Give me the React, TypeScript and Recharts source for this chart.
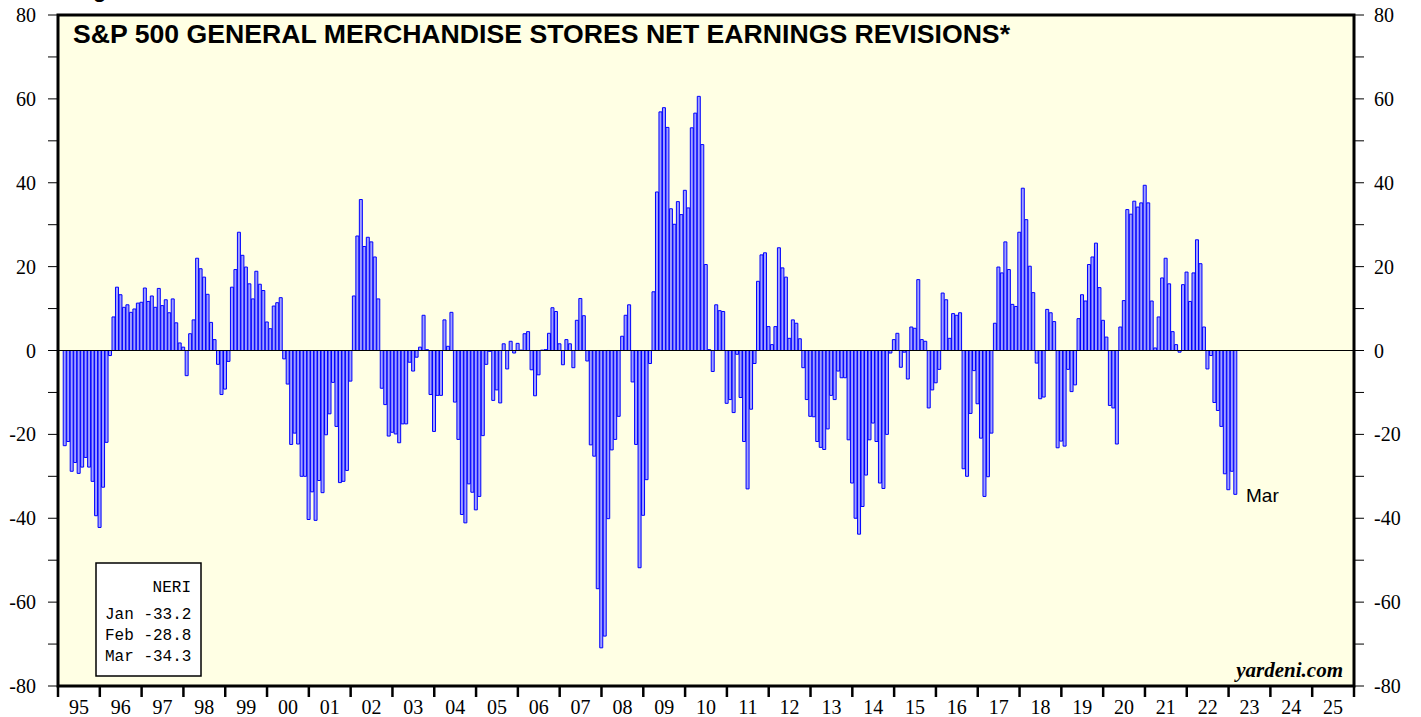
import { BarChart, Bar, XAxis, YAxis, ReferenceLine, ReferenceArea, CartesianGrid } from 'recharts'

// net earnings revisions index, monthly from Mar 1995 to Mar 2023 (%)
const firstMonth = 2 // months after Jan 1995
const neri: number[] = [
  -22.7, -21.7, -28.8, -26.7, -29.3, -27.8, -25.5, -27.8, -31.2, -39.4, // 1995
  -42.2, -32.6, -21.9, -1.2, 8.0, 15.1, 13.3, 10.3, 10.9, 9.1, 9.9, 11.3, // 1996
  11.5, 14.9, 11.7, 13.0, 10.3, 14.8, 10.7, 12.1, 9.0, 12.3, 6.6, 1.8, // 1997
  0.8, -6.0, 4.0, 7.3, 22.0, 19.5, 17.5, 13.4, 6.7, 2.6, -3.3, -10.5, // 1998
  -9.2, -2.6, 15.1, 19.3, 28.2, 22.7, 19.9, 15.9, 12.3, 18.9, 15.8, 14.3, // 1999
  6.8, 5.2, 10.6, 11.4, 12.6, -2.0, -8.0, -22.4, -19.7, -22.3, -30.0, -30.0, // 2000
  -40.3, -33.7, -40.5, -31.0, -33.9, -20.1, -15.1, -7.6, -18.1, -31.5, -31.2, -28.6, // 2001
  -7.3, 13.0, 27.3, 36.0, 24.8, 27.0, 25.9, 22.3, 12.3, -9.0, -12.9, -20.4, // 2002
  -19.5, -19.9, -22.0, -17.5, -17.5, -2.8, -4.9, -1.6, 0.8, 8.4, 0.2, -10.5, // 2003
  -19.3, -10.7, -10.7, 7.3, 1.0, 9.1, -12.3, -21.2, -39.1, -41.1, -31.8, -33.8, // 2004
  -38.0, -34.8, -20.3, -3.3, -0.2, -11.9, -9.4, -12.5, 1.6, -4.4, 2.2, -0.6, // 2005
  1.7, 0.1, 4.0, 4.5, -4.6, -10.8, -5.8, 0.1, 0.2, 4.1, 10.2, 9.3, // 2006
  1.6, -3.4, 2.6, 1.6, -4.1, 7.2, 12.4, 8.3, -2.5, -22.5, -25.2, -56.8, // 2007
  -70.9, -68.1, -40.1, -23.7, -21.2, -15.7, 3.4, 8.4, 10.9, -7.5, -22.4, -51.8, // 2008
  -39.3, -30.8, -3.1, 14.0, 37.8, 56.9, 57.9, 53.2, 33.8, 30.1, 35.5, 32.4, // 2009
  38.2, 34.0, 53.1, 56.6, 60.6, 49.1, 20.5, 0.2, -5.0, 10.9, 9.5, 9.3, // 2010
  -12.6, -11.7, -14.8, -0.9, -11.2, -21.7, -33.0, -14.0, -3.1, 16.5, 22.8, 23.3, // 2011
  5.7, 1.4, 5.7, 24.5, 19.7, 17.5, 2.9, 7.3, 6.5, 2.8, -4.1, -11.7, // 2012
  -15.7, -15.8, -21.7, -23.1, -23.6, -18.7, -10.7, -11.7, -4.9, -6.5, -6.5, -21.3, // 2013
  -31.6, -40.0, -43.8, -37.2, -29.7, -21.3, -17.3, -21.7, -31.6, -32.9, -20.0, -0.6, // 2014
  2.6, 4.1, -4.0, -0.4, -6.8, 5.6, 5.3, 16.9, 2.6, 2.2, -13.7, -9.4, // 2015
  -7.7, -4.5, 13.7, 12.1, 2.9, 8.8, 8.4, 9.0, -28.2, -30.0, -15.0, -4.8, // 2016
  -12.7, -20.9, -34.8, -30.1, -19.7, 6.5, 19.9, 18.5, 25.9, 19.3, 11.0, 10.5, // 2017
  28.2, 38.7, 31.2, 20.1, 13.8, -3.0, -11.5, -11.1, 9.8, 9.0, 6.9, -23.2, // 2018
  -21.6, -22.8, -4.5, -9.8, -8.2, 7.6, 13.3, 11.8, 20.5, 22.3, 25.6, 15.0, // 2019
  7.2, 3.2, -13.1, -13.7, -22.3, 5.6, 11.9, 33.6, 32.5, 35.6, 34.2, 35.2, // 2020
  39.4, 35.2, 11.8, 0.6, 8.0, 17.3, 22.0, 15.9, 4.5, 1.4, -0.4, 15.7, // 2021
  18.7, 11.7, 18.5, 26.4, 20.7, 5.6, -4.4, -1.2, -12.4, -14.3, -18.1, -29.4, // 2022
  -33.2, -28.8, -34.3, // 2023
]

const yearLabels = [
  '95', '96', '97', '98', '99', '00', '01', '02', '03', '04', '05', '06', '07', '08', '09', '10',
  '11', '12', '13', '14', '15', '16', '17', '18', '19', '20', '21', '22', '23', '24', '25',
]
const yTicks = [-80, -70, -60, -50, -40, -30, -20, -10, 0, 10, 20, 30, 40, 50, 60, 70, 80]
const legendMonths = ['Jan', 'Feb', 'Mar']
const legendValues = [-33.2, -28.8, -34.3]

const data = neri.map((v, i) => ({ month: firstMonth + i, neri: v }))
const monthCount = yearLabels.length * 12
const yearTicks = yearLabels.map((_, i) => i * 12).concat(monthCount)

const W = 1421
const H = 717
const PLOT_W = 1296
const monthPx = PLOT_W / monthCount

const serif = '"Liberation Serif", "Times New Roman", serif'
const sans = '"Liberation Sans", Arial, sans-serif'

const YearTick = ({ x, y, payload }: any) => {
  const label = yearLabels[payload.value / 12]
  return (
    <g>
      <line x1={x} x2={x} y1={y} y2={y + 11} stroke="#000" strokeWidth={2.5} />
      {label && (
        <text x={x + monthPx * 6} y={y + 28} textAnchor="middle" fontSize={20} fontFamily={serif} fill="#000">
          {label}
        </text>
      )}
    </g>
  )
}

const LeftTick = ({ x, y, payload }: any) =>
  payload.value % 20 === 0 ? (
    <text x={x} y={y} dy={7} textAnchor="end" fontSize={20} fontFamily={serif} fill="#000">
      {payload.value}
    </text>
  ) : <g />

const RightTick = ({ x, y, payload }: any) =>
  payload.value % 20 === 0 ? (
    <text x={x} y={y} dy={7} textAnchor="start" fontSize={20} fontFamily={serif} fill="#000">
      {payload.value}
    </text>
  ) : <g />

export default function App() {
  return (
    <div style={{ position: 'absolute', left: 0, top: 0, width: W, height: H, background: '#fff' }}>
      <BarChart
        width={W}
        height={H}
        data={data}
        margin={{ top: 15, right: 0, bottom: 0, left: 0 }}
        barCategoryGap={0}
        barGap={0}
      >
        <CartesianGrid horizontal={false} vertical={false} fill="#ffffe4" fillOpacity={1} />
        <XAxis
          dataKey="month"
          type="number"
          domain={[0, monthCount]}
          ticks={yearTicks}
          interval={0}
          height={31}
          axisLine={false}
          tickLine={false}
          tickSize={0}
          tickMargin={0}
          tick={<YearTick />}
          allowDataOverflow
        />
        <YAxis
          domain={[-80, 80]}
          ticks={yTicks}
          interval={0}
          width={58}
          axisLine={false}
          tickLine={{ stroke: '#000', strokeWidth: 1 }}
          tickSize={10}
          tickMargin={12}
          tick={<LeftTick />}
          allowDataOverflow
        />
        <YAxis
          yAxisId="right"
          orientation="right"
          domain={[-80, 80]}
          ticks={yTicks}
          interval={0}
          width={67}
          axisLine={false}
          tickLine={{ stroke: '#000', strokeWidth: 1 }}
          tickSize={10}
          tickMargin={10}
          tick={<RightTick />}
          allowDataOverflow
        />
        <Bar dataKey="neri" fill="#a0a0ff" stroke="#0000ff" strokeWidth={1} isAnimationActive={false} />
        <ReferenceLine y={0} stroke="#000" strokeWidth={1} />
        <ReferenceArea x1={0} x2={monthCount} y1={-80} y2={80} fill="none" stroke="#000" strokeWidth={3} />
      </BarChart>

      <svg width={W} height={H} style={{ position: 'absolute', left: 0, top: 0, pointerEvents: 'none' }}>
        {/* cut-off tail of a heading above the page edge */}
        <text x={93} y={-3} fontSize={22} fontWeight="bold" fontFamily={sans} fill="#000">g</text>

        <text
          x={73}
          y={43}
          fontSize={25}
          fontWeight="bold"
          fontFamily={sans}
          textLength={937}
          lengthAdjust="spacingAndGlyphs"
          fill="#000"
        >
          S&amp;P 500 GENERAL MERCHANDISE STORES NET EARNINGS REVISIONS*
        </text>

        <rect x={96} y={563} width={105} height={113} fill="#fff" stroke="#000" strokeWidth={1.5} />
        <g fontFamily='"Liberation Mono", "Courier New", monospace' fontSize={16} fill="#000">
          <text x={191} y={592} textAnchor="end">NERI</text>
          {legendMonths.map((m, i) => (
            <text key={m} x={105} y={619 + i * 21} xmlSpace="preserve">
              {`${m} ${legendValues[i].toFixed(1)}`}
            </text>
          ))}
        </g>

        <text x={1246} y={502} fontSize={19} fontFamily={sans} fill="#000">
          {legendMonths[legendMonths.length - 1]}
        </text>

        <text
          x={1343}
          y={677}
          textAnchor="end"
          fontSize={21}
          fontWeight="bold"
          fontStyle="italic"
          fontFamily={serif}
          fill="#000"
        >
          yardeni.com
        </text>
      </svg>
    </div>
  )
}
